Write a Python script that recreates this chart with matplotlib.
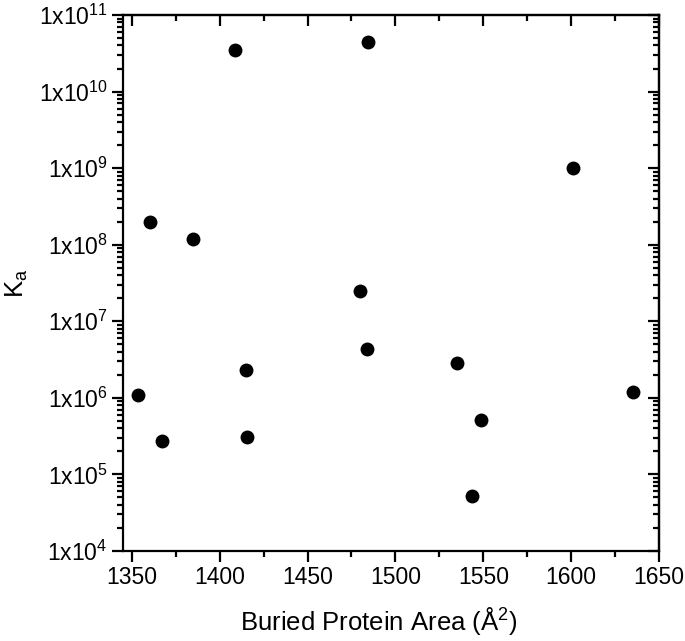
import matplotlib
matplotlib.use("Agg")
import matplotlib.pyplot as plt
from matplotlib.ticker import MultipleLocator, LogLocator, FixedLocator, FixedFormatter, NullFormatter

plt.rcParams['font.family'] = ['Liberation Sans', 'DejaVu Sans']
plt.rcParams['mathtext.fontset'] = 'custom'
plt.rcParams['mathtext.rm'] = 'Liberation Sans'
plt.rcParams['mathtext.it'] = 'Liberation Sans:italic'
plt.rcParams['mathtext.default'] = 'regular'

area = [1408.6, 1484.3, 1601.0, 1360.2, 1384.7, 1479.8, 1483.7, 1535.0,
        1414.9, 1353.4, 1635.1, 1548.6, 1367.0, 1415.5, 1543.5]
ka = [3.5e10, 4.4e10, 1.0e9, 2.0e8, 1.2e8, 2.5e7, 4.4e6, 2.85e6,
      2.3e6, 1.09e6, 1.19e6, 5.1e5, 2.7e5, 3.1e5, 5.2e4]

xticks = [1350, 1400, 1450, 1500, 1550, 1600, 1650]
yexps = [4, 5, 6, 7, 8, 9, 10, 11]
ylabels = [r'1x10$^{%d}$' % e for e in yexps]

fig = plt.figure(figsize=(6.85, 6.41), dpi=100)
ax = fig.add_axes([0.1796, 0.1404, 0.7824, 0.8362])
ax.scatter(area, ka, s=100, color='black', zorder=3, linewidths=0)
ax.set_yscale('log')
ax.set_xlim(1345, 1650)
ax.set_ylim(1e4, 1e11)

ax.xaxis.set_major_locator(FixedLocator(xticks))
ax.xaxis.set_minor_locator(MultipleLocator(25))
ax.yaxis.set_major_locator(FixedLocator([10.0**e for e in yexps]))
ax.yaxis.set_major_formatter(FixedFormatter(ylabels))
ax.yaxis.set_minor_locator(LogLocator(base=10, subs=range(2, 10), numticks=20))
ax.yaxis.set_minor_formatter(NullFormatter())

for s in ax.spines.values():
    s.set_linewidth(1.6)
ax.tick_params(which='major', direction='out', length=8, width=1.6, labelsize=16.5, pad=3)
ax.tick_params(which='minor', direction='out', length=4, width=1.6)

secx = ax.secondary_xaxis('top')
secx.xaxis.set_major_locator(FixedLocator(xticks))
secx.xaxis.set_minor_locator(MultipleLocator(25))
secx.tick_params(which='major', direction='in', length=8, width=1.6, labeltop=False)
secx.tick_params(which='minor', direction='in', length=4, width=1.6)
secx.spines['top'].set_linewidth(1.6)

secy = ax.secondary_yaxis('right')
secy.yaxis.set_major_locator(FixedLocator([10.0**e for e in yexps]))
secy.yaxis.set_minor_locator(LogLocator(base=10, subs=range(2, 10), numticks=20))
secy.yaxis.set_minor_formatter(NullFormatter())
secy.tick_params(which='major', direction='in', length=8, width=1.6, labelright=False)
secy.tick_params(which='minor', direction='in', length=4, width=1.6)
secy.spines['right'].set_linewidth(1.6)

ax.set_xlabel(r'Buried Protein Area (Å$^{2}$)', fontsize=18.5)
ax.xaxis.set_label_coords(0.478, -0.13, transform=ax.transAxes)
ax.xaxis.label.set_va('center')
ax.set_ylabel(r'K$_{a}$', fontsize=18.5, labelpad=6)

fig.savefig('out.png', dpi=100)
